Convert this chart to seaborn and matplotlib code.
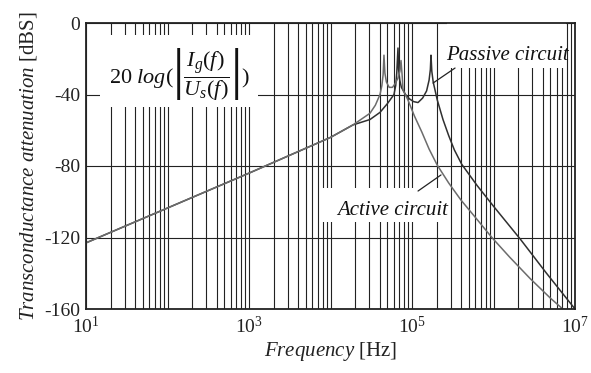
import numpy as np
import pandas as pd
import seaborn as sns
from matplotlib import pyplot as plt
from matplotlib.patches import Rectangle
from matplotlib.ticker import FixedLocator, LogLocator, NullFormatter, FuncFormatter

# frequency [Hz] and attenuation [dBS]
active_f = [10, 100, 1000, 3160, 10000, 18900, 30500, 35500, 40500, 42700,
            44200, 45300, 46500, 48500, 52500, 57500, 62000, 67000, 71000, 73300,
            75900, 77600, 89100, 107000, 132000, 162000, 204000, 282000, 398000,
            631000, 955000, 1580000, 2820000, 5010000, 7080000]
active_db = [-123, -103.5, -84, -74, -64, -57, -50.5, -46, -40, -35,
             -29, -18, -28, -33, -36, -36, -34, -31, -27, -21,
             -30, -37.5, -43, -52, -61, -70.5, -79.5, -89.5, -99,
             -110, -120, -131, -143, -154, -160]

passive_f = [10, 100, 1000, 3160, 10000, 18900, 30500, 40500, 50100, 60100,
             63100, 65000, 67300, 68500, 70800, 74100, 83200, 93300, 105000, 118600,
             135000, 151000, 162000, 168000, 171000, 175000, 182000, 204000, 240000,
             282000, 331000, 407000, 631000, 1000000, 2140000, 4470000, 10000000]
passive_db = [-123, -103.5, -84, -74, -64, -57, -54, -50, -45, -40,
              -35, -28, -14, -26, -32, -36, -40, -42.5, -44, -44.5,
              -42, -38, -32, -26, -18, -27, -33, -43, -54,
              -63, -71, -79, -91, -102.5, -121, -140, -160]

y_ticks = [0, -40, -80, -120, -160]
x_labeled = [1e1, 1e3, 1e5, 1e7]

sns.set_theme(style='white')
plt.rcParams['font.family'] = ['Liberation Serif', 'DejaVu Serif']
plt.rcParams['mathtext.fontset'] = 'custom'
plt.rcParams['mathtext.rm'] = 'Liberation Serif'
plt.rcParams['mathtext.it'] = 'Liberation Serif:italic'
plt.rcParams['mathtext.bf'] = 'Liberation Serif:bold'

df_act = pd.DataFrame({'f': active_f, 'db': active_db})
df_pas = pd.DataFrame({'f': passive_f, 'db': passive_db})

fig = plt.figure(figsize=(5.91, 3.73), dpi=100)
ax = fig.add_axes([86 / 591, 1 - 309 / 373, 489 / 591, 286 / 373])

sns.lineplot(data=df_pas, x='f', y='db', ax=ax, color='#303030', lw=1.1, zorder=2)
sns.lineplot(data=df_act, x='f', y='db', ax=ax, color='#6c6c6c', lw=1.1, zorder=2)

ax.set_xscale('log')
ax.set_xlim(10, 1e7)
ax.set_ylim(-160, 0)

ax.xaxis.set_major_locator(FixedLocator(x_labeled))
ax.xaxis.set_minor_locator(LogLocator(base=10, subs=np.arange(1, 10), numticks=20))
ax.xaxis.set_minor_formatter(NullFormatter())
ax.xaxis.set_major_formatter(FuncFormatter(lambda v, p: r'$\mathdefault{10^{%d}}$' % round(np.log10(v))))
ax.set_yticks(y_ticks)
ax.set_yticklabels([str(t) for t in y_ticks])

ax.set_axisbelow(True)
ax.grid(which='both', axis='x', color='#222222', lw=0.8)
ax.grid(which='major', axis='y', color='#222222', lw=0.8)
ax.tick_params(which='both', length=0, labelsize=14, colors='#222222')
ax.tick_params(axis='y', pad=4)
ax.tick_params(axis='x', pad=5)
for s in ax.spines.values():
    s.set_color('#222222')
    s.set_linewidth(1.3)

ax.set_xlabel(r'$\it{Frequency}$ [Hz]', fontsize=15, color='#222222', labelpad=2)
ax.set_ylabel(r'$\it{Transconductance\ attenuation}$ [dBS]', fontsize=15, color='#222222', labelpad=4)

# white patches behind the labels, covering the grid
for x0, y0, w, h in [(0.0286, 0.706, 0.323, 0.252), (0.738, 0.843, 0.244, 0.157),
                     (0.4785, 0.304, 0.2595, 0.119)]:
    ax.add_patch(Rectangle((x0, y0), w, h, transform=ax.transAxes, facecolor='white',
                           edgecolor='none', zorder=1))

ax.text(0.192, 0.82, r'$\mathrm{20}\ log(\left|\dfrac{I_g(f)}{U_s(f)}\right|)$', transform=ax.transAxes,
        fontsize=16, ha='center', va='center', color='#111111', zorder=3)
ax.text(0.861, 0.885, 'Passive circuit', style='italic', transform=ax.transAxes,
        fontsize=15, ha='center', va='center', color='#111111', zorder=3)
ax.text(0.626, 0.345, 'Active circuit', style='italic', transform=ax.transAxes,
        fontsize=15, ha='center', va='center', color='#111111', zorder=3)

ax.annotate('', xy=(10 ** 5.258, -33.6), xytext=(10 ** 5.528, -25.2),
            arrowprops=dict(arrowstyle='-', color='#222222', lw=0.9, shrinkA=0, shrinkB=0))
ax.annotate('', xy=(10 ** 5.356, -85), xytext=(10 ** 5.074, -94),
            arrowprops=dict(arrowstyle='-', color='#222222', lw=0.9, shrinkA=0, shrinkB=0))

fig.savefig('out.png', dpi=100)
